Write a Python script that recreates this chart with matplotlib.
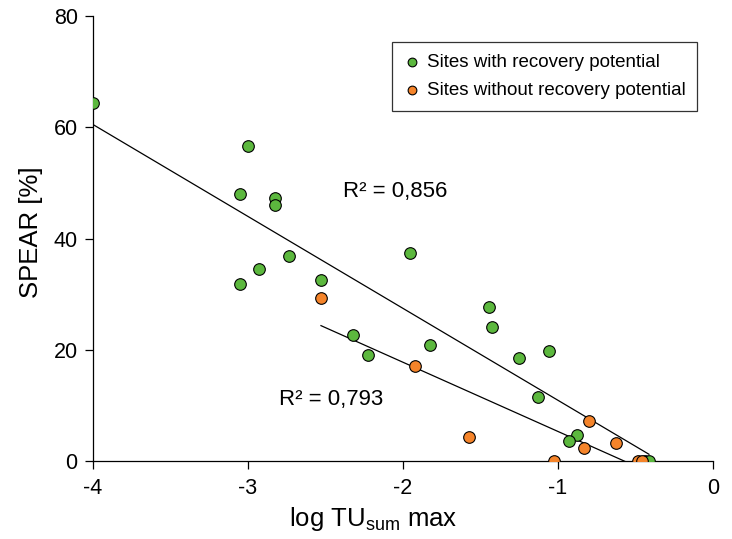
import numpy as np
import matplotlib
matplotlib.use("Agg")
import matplotlib.pyplot as plt

plt.rcParams["font.family"] = ["Liberation Sans", "DejaVu Sans"]
plt.rcParams["mathtext.fontset"] = "custom"
plt.rcParams["mathtext.rm"] = "Liberation Sans"
plt.rcParams["axes.unicode_minus"] = False

# sites with recovery potential
green_x = [-4.0, -3.0, -3.052, -2.826, -2.826, -2.735, -2.929, -3.052, -2.529,
           -2.323, -2.226, -1.955, -1.826, -1.445, -1.426, -1.252, -1.058,
           -1.129, -0.877, -0.929, -0.439, -0.413]
green_y = [64.4, 56.6, 48.0, 47.3, 46.0, 36.9, 34.5, 31.8, 32.5,
           22.7, 19.1, 37.4, 20.9, 27.7, 24.1, 18.5, 19.8,
           11.5, 4.7, 3.6, 0.0, 0.0]

# sites without recovery potential
orange_x = [-2.529, -1.923, -1.574, -1.026, -0.832, -0.8, -0.626, -0.484, -0.458]
orange_y = [29.3, 17.1, 4.3, 0.0, 2.3, 7.2, 3.2, 0.0, 0.0]

r2_labels = ["R² = 0,856", "R² = 0,793"]

GREEN = "#5cb83e"
ORANGE = "#f5842a"

fig = plt.figure(figsize=(7.32, 5.39), dpi=100)
ax = fig.add_axes([0.127, 0.1447, 0.847, 0.8253])

ax.scatter(green_x, green_y, s=70, color=GREEN, edgecolors="black",
           linewidths=0.8, zorder=3, label="Sites with recovery potential")
ax.scatter(orange_x, orange_y, s=70, color=ORANGE, edgecolors="black",
           linewidths=0.8, zorder=3, label="Sites without recovery potential")

# linear trend lines over each series' x range
for xs, ys in [(green_x, green_y), (orange_x, orange_y)]:
    k, b = np.polyfit(xs, ys, 1)
    xx = np.array([min(xs), max(xs)])
    ax.plot(xx, k * xx + b, color="black", lw=0.9, zorder=2)

ax.text(-2.39, 48.5, r2_labels[0], fontsize=16, ha="left", va="center")
ax.text(-2.80, 11.0, r2_labels[1], fontsize=16, ha="left", va="center")

ax.set_xlim(-4, 0)
ax.set_ylim(0, 80)
ax.set_xticks([-4, -3, -2, -1, 0])
ax.set_yticks([0, 20, 40, 60, 80])
ax.tick_params(labelsize=15.5, direction="out", length=6, width=0.9)
ax.tick_params(axis="x", pad=6)
ax.tick_params(axis="y", pad=5)
ax.spines["top"].set_visible(False)
ax.spines["right"].set_visible(False)
for sp in ("left", "bottom"):
    ax.spines[sp].set_linewidth(0.9)

ax.set_xlabel(r"log TU$_{\mathrm{sum}}$ max", fontsize=18.5, labelpad=4)
ax.xaxis.set_label_coords(0.452, -0.1)
ax.set_ylabel("SPEAR [%]", fontsize=18.5, labelpad=6)
ax.yaxis.set_label_coords(-0.081, 0.515)

leg = ax.legend(loc="upper left", bbox_to_anchor=(0.482, 0.9416), fontsize=13.5,
                frameon=True, fancybox=False, edgecolor="black",
                borderaxespad=0, handletextpad=0.3, borderpad=0.6,
                handlelength=1.0, labelspacing=0.62, scatterpoints=1,
                markerscale=0.75)
leg.get_frame().set_linewidth(0.9)

fig.savefig("out.png", dpi=100)
